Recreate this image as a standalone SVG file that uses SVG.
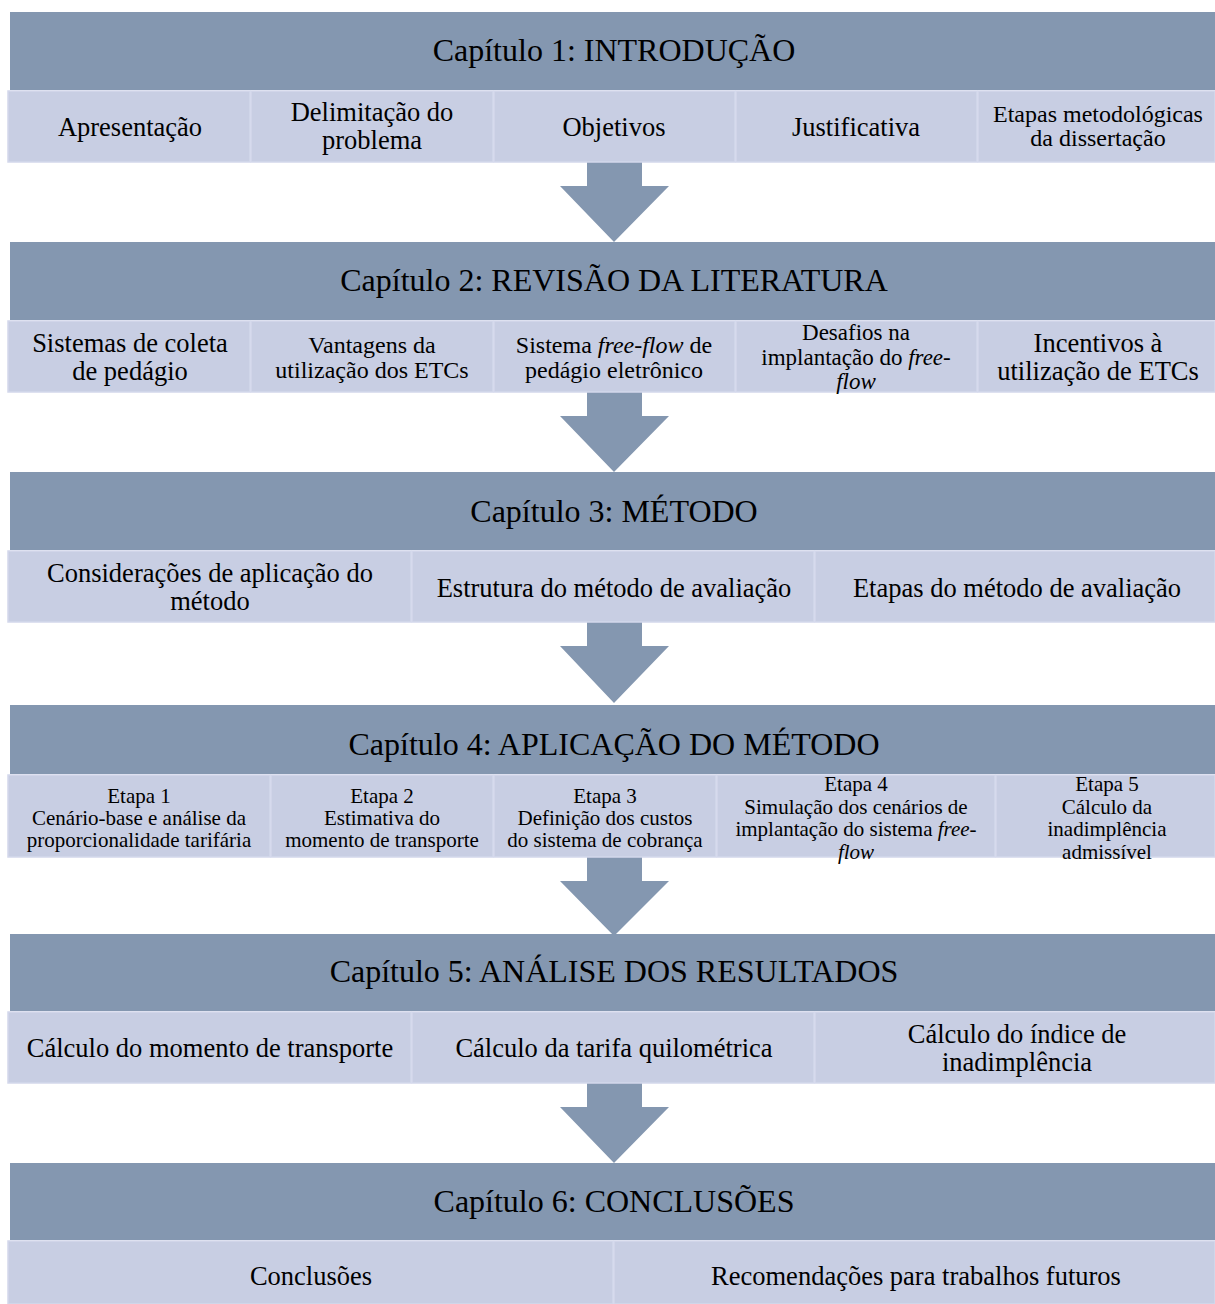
<svg xmlns="http://www.w3.org/2000/svg" width="1215" height="1304" viewBox="0 0 1215 1304">
<style>
.hd{fill:#8497B0}
.sb{fill:#C8CEE3;stroke:#D3D8EB;stroke-width:1.5}
.ar{fill:#8497B0}
text{font-family:"Liberation Serif","Times New Roman",serif;fill:#000;text-anchor:middle}
.ht{font-size:32px}
.t26{font-size:26.5px}
.t24{font-size:24px}
.t23{font-size:23px}
.t21{font-size:21px}
.i{font-style:italic}
</style>
<rect width="1215" height="1304" fill="#fff"/>

<g id="connectors">
<polygon class="ar" points="587,162 642,162 642,186 669,186 614,242 560,186 587,186"/>
<polygon class="ar" points="587,392 642,392 642,416 669,416 614,472 560,416 587,416"/>
<polygon class="ar" points="587,622 642,622 642,646 669,646 614,703 560,646 587,646"/>
<polygon class="ar" points="587,857 642,857 642,881 669,881 614,936 560,881 587,881"/>
<polygon class="ar" points="587,1083 642,1083 642,1107 669,1107 614,1163 560,1107 587,1107"/>
</g>

<!-- Chapter 1 -->
<g id="cap1">
<rect class="hd" x="10" y="12" width="1205" height="78"/>
<text class="ht" x="614" y="61">Capítulo 1: INTRODUÇÃO</text>
</g>
<g id="cap1-a"><rect class="sb" x="8" y="91" width="242" height="71"/><text class="t26" x="130" y="136">Apresentação</text></g>
<g id="cap1-b"><rect class="sb" x="251" y="91" width="242" height="71"/><text class="t26" x="372" y="121">Delimitação do</text><text class="t26" x="372" y="149">problema</text></g>
<g id="cap1-c"><rect class="sb" x="494" y="91" width="241" height="71"/><text class="t26" x="614" y="136">Objetivos</text></g>
<g id="cap1-d"><rect class="sb" x="736" y="91" width="241" height="71"/><text class="t26" x="856" y="136">Justificativa</text></g>
<g id="cap1-e"><rect class="sb" x="978" y="91" width="237" height="71"/><text class="t24" x="1098" y="122">Etapas metodológicas</text><text class="t24" x="1098" y="146">da dissertação</text></g>

<!-- Chapter 2 -->
<g id="cap2">
<rect class="hd" x="10" y="242" width="1205" height="78"/>
<text class="ht" x="614" y="291">Capítulo 2: REVISÃO DA LITERATURA</text>
</g>
<g id="cap2-a"><rect class="sb" x="8" y="321" width="242" height="71"/><text class="t26" x="130" y="352">Sistemas de coleta</text><text class="t26" x="130" y="380">de pedágio</text></g>
<g id="cap2-b"><rect class="sb" x="251" y="321" width="242" height="71"/><text class="t24" x="372" y="353">Vantagens da</text><text class="t24" x="372" y="378">utilização dos ETCs</text></g>
<g id="cap2-c"><rect class="sb" x="494" y="321" width="241" height="71"/><text class="t24" x="614" y="353">Sistema <tspan class="i">free-flow</tspan> de</text><text class="t24" x="614" y="378">pedágio eletrônico</text></g>
<g id="cap2-d"><rect class="sb" x="736" y="321" width="241" height="71"/><text class="t23" x="856" y="340">Desafios na</text><text class="t23" x="856" y="365">implantação do <tspan class="i">free-</tspan></text><text class="t23 i" x="856" y="389">flow</text></g>
<g id="cap2-e"><rect class="sb" x="978" y="321" width="237" height="71"/><text class="t26" x="1098" y="352">Incentivos à</text><text class="t26" x="1098" y="380">utilização de ETCs</text></g>

<!-- Chapter 3 -->
<g id="cap3">
<rect class="hd" x="10" y="472" width="1205" height="78"/>
<text class="ht" x="614" y="522">Capítulo 3: MÉTODO</text>
</g>
<g id="cap3-a"><rect class="sb" x="8" y="551" width="403" height="71"/><text class="t26" x="210" y="582">Considerações de aplicação do</text><text class="t26" x="210" y="610">método</text></g>
<g id="cap3-b"><rect class="sb" x="412" y="551" width="402" height="71"/><text class="t26" x="614" y="597">Estrutura do método de avaliação</text></g>
<g id="cap3-c"><rect class="sb" x="815" y="551" width="400" height="71"/><text class="t26" x="1017" y="597">Etapas do método de avaliação</text></g>

<!-- Chapter 4 -->
<g id="cap4">
<rect class="hd" x="10" y="705" width="1205" height="69"/>
<text class="ht" x="614" y="755">Capítulo 4: APLICAÇÃO DO MÉTODO</text>
</g>
<g id="cap4-a"><rect class="sb" x="8" y="775" width="262" height="82"/><text class="t21" x="139" y="803">Etapa 1</text><text class="t21" x="139" y="825">Cenário-base e análise da</text><text class="t21" x="139" y="847">proporcionalidade tarifária</text></g>
<g id="cap4-b"><rect class="sb" x="271" y="775" width="222" height="82"/><text class="t21" x="382" y="803">Etapa 2</text><text class="t21" x="382" y="825">Estimativa do</text><text class="t21" x="382" y="847">momento de transporte</text></g>
<g id="cap4-c"><rect class="sb" x="494" y="775" width="222" height="82"/><text class="t21" x="605" y="803">Etapa 3</text><text class="t21" x="605" y="825">Definição dos custos</text><text class="t21" x="605" y="847">do sistema de cobrança</text></g>
<g id="cap4-d"><rect class="sb" x="717" y="775" width="278" height="82"/><text class="t21" x="856" y="791">Etapa 4</text><text class="t21" x="856" y="814">Simulação dos cenários de</text><text class="t21" x="856" y="836">implantação do sistema <tspan class="i">free-</tspan></text><text class="t21 i" x="856" y="859">flow</text></g>
<g id="cap4-e"><rect class="sb" x="996" y="775" width="219" height="82"/><text class="t21" x="1107" y="791">Etapa 5</text><text class="t21" x="1107" y="814">Cálculo da</text><text class="t21" x="1107" y="836">inadimplência</text><text class="t21" x="1107" y="859">admissível</text></g>

<!-- Chapter 5 -->
<g id="cap5">
<rect class="hd" x="10" y="934" width="1205" height="77"/>
<text class="ht" x="614" y="982">Capítulo 5: ANÁLISE DOS RESULTADOS</text>
</g>
<g id="cap5-a"><rect class="sb" x="8" y="1012" width="403" height="71"/><text class="t26" x="210" y="1057">Cálculo do momento de transporte</text></g>
<g id="cap5-b"><rect class="sb" x="412" y="1012" width="402" height="71"/><text class="t26" x="614" y="1057">Cálculo da tarifa quilométrica</text></g>
<g id="cap5-c"><rect class="sb" x="815" y="1012" width="400" height="71"/><text class="t26" x="1017" y="1043">Cálculo do índice de</text><text class="t26" x="1017" y="1071">inadimplência</text></g>

<!-- Chapter 6 -->
<g id="cap6">
<rect class="hd" x="10" y="1163" width="1205" height="77"/>
<text class="ht" x="614" y="1212">Capítulo 6: CONCLUSÕES</text>
</g>
<g id="cap6-a"><rect class="sb" x="8" y="1241" width="605" height="63"/><text class="t26" x="311" y="1285">Conclusões</text></g>
<g id="cap6-b"><rect class="sb" x="614" y="1241" width="601" height="63"/><text class="t26" x="916" y="1285">Recomendações para trabalhos futuros</text></g>
</svg>
